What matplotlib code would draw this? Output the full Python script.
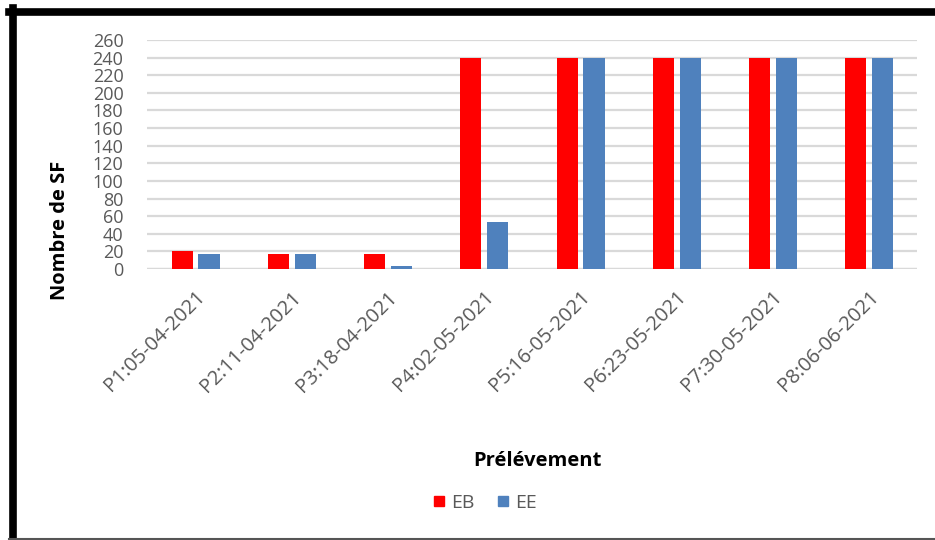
import numpy as np
import matplotlib.pyplot as plt
from matplotlib.lines import Line2D

# sampling campaigns and counts per station
prelevements = ['P1:05-04-2021', 'P2:11-04-2021', 'P3:18-04-2021', 'P4:02-05-2021',
                'P5:16-05-2021', 'P6:23-05-2021', 'P7:30-05-2021', 'P8:06-06-2021']
eb = [20, 17, 17, 240, 240, 240, 240, 240]
ee = [17, 17, 3, 53, 240, 240, 240, 240]
yticks = list(range(0, 261, 20))

plt.rcParams['font.family'] = ['Open Sans', 'DejaVu Sans']


def main():
    fig = plt.figure(figsize=(9.35, 5.4), dpi=100)
    ax = fig.add_axes([147 / 935, 1 - 269 / 540, 770 / 935, 229 / 540])

    x = np.arange(len(prelevements))
    w = 0.22
    ax.bar(x - 0.135, eb, w, color='#ff0000', zorder=3)
    ax.bar(x + 0.145, ee, w, color='#4f81bd', zorder=3)

    ax.set_xlim(-0.5, len(prelevements) - 0.5)
    ax.set_ylim(0, 260)
    ax.set_yticks(yticks)
    ax.set_yticklabels([str(v) for v in yticks], fontsize=13, color='#595959')
    ax.yaxis.grid(True, color='#d9d9d9', linewidth=1.6, zorder=0)
    ax.tick_params(axis='both', length=0)
    ax.tick_params(axis='y', pad=17)
    for s in ax.spines.values():
        s.set_visible(False)
    ax.axhline(0, color='#d9d9d9', linewidth=1.6, zorder=1)

    ax.set_xticks(x)
    ax.set_xticklabels(prelevements, rotation=45, ha='right', rotation_mode='anchor',
                       fontsize=14.5, color='#595959')
    ax.tick_params(axis='x', pad=13)

    fig.text(537 / 935, 1 - 461 / 540, 'Prélévement', fontsize=14.5, fontweight='bold',
             ha='center', va='center')
    fig.text(60 / 935, 1 - 230 / 540, 'Nombre de SF', fontsize=14.5, fontweight='bold',
             ha='center', va='center', rotation=90)

    handles = [Line2D([], [], marker='s', linestyle='', color='#ff0000', markersize=7.5),
               Line2D([], [], marker='s', linestyle='', color='#4f81bd', markersize=7.5)]
    fig.legend(handles, ['EB', 'EE'], loc='center', bbox_to_anchor=(484 / 935, 1 - 503 / 540),
               ncol=2, frameon=False, fontsize=14, labelcolor='#595959',
               handletextpad=0.2, columnspacing=1.1, handlelength=0.8)

    # frame around the chart: heavy black on left/top, thin grey at bottom
    fig.add_artist(Line2D([12.5 / 935, 12.5 / 935], [1 - 8 / 540, 0], color='black',
                          linewidth=5.5, transform=fig.transFigure))
    fig.add_artist(Line2D([9 / 935, 1], [1 - 11.5 / 540, 1 - 11.5 / 540], color='black',
                          linewidth=5.5, transform=fig.transFigure))
    fig.add_artist(Line2D([9 / 935, 1], [1 - 538.5 / 540, 1 - 538.5 / 540], color='#555555',
                          linewidth=1.5, transform=fig.transFigure))

    fig.savefig('out.png', dpi=100)


if __name__ == '__main__':
    main()
